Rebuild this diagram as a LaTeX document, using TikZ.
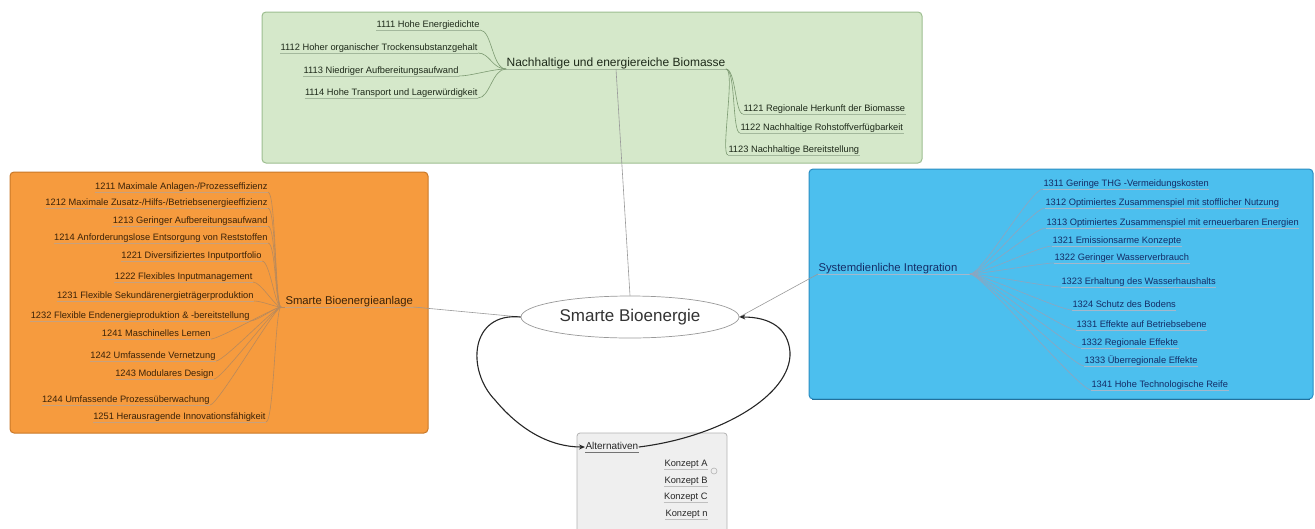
\documentclass[tikz,border=0pt]{standalone}
\usepackage{fontspec}
\setmainfont{Liberation Sans}
\usetikzlibrary{arrows.meta,shapes.geometric}
\definecolor{gfill}{HTML}{D5E8CA}
\definecolor{gline}{HTML}{9DBE90}
\definecolor{ofill}{HTML}{F69B3E}
\definecolor{oline}{HTML}{C97828}
\definecolor{bfill}{HTML}{4CBFEE}
\definecolor{bline}{HTML}{2B8DC2}
\definecolor{gtext}{HTML}{1E2A1A}
\definecolor{otext}{HTML}{3A2208}
\definecolor{btext}{HTML}{142C66}
\definecolor{gconn}{HTML}{7C9A72}
\definecolor{oconn}{HTML}{B98A5C}
\definecolor{bconn}{HTML}{8FA5BE}
\definecolor{afill}{HTML}{EFEFEF}
\definecolor{aline}{HTML}{B3B3B3}
\begin{document}
\begin{tikzpicture}[x=1pt,y=-1pt,
  panel/.style={rounded corners=4pt, line width=1pt},
  leaf/.style={font=\fontsize{9.3}{10}\selectfont, inner sep=0.5pt, outer sep=0pt, text height=7pt, text depth=2pt},
  gleaf/.style={leaf, text=gtext},
  oleaf/.style={leaf, text=otext},
  bleaf/.style={leaf, text=btext},
  aleaf/.style={leaf, text=black!85},
  par/.style={inner sep=0.5pt, outer sep=0pt, text height=8.5pt, text depth=2.5pt},
  gpar/.style={par, font=\fontsize{12}{14}\selectfont, text=gtext},
  opar/.style={par, font=\fontsize{11.3}{13}\selectfont, text=otext},
  bpar/.style={par, font=\fontsize{11.3}{13}\selectfont, text=btext},
  gcon/.style={draw=gconn, line width=0.6pt},
  ocon/.style={draw=oconn, line width=0.6pt},
  bcon/.style={draw=bconn, line width=0.6pt},
  gul/.style={draw=gconn!70, line width=0.5pt},
  oul/.style={draw=oconn!80, line width=0.5pt},
  bul/.style={draw=bconn!80, line width=0.5pt},
  aul/.style={draw=black!25, line width=0.5pt},
  link/.style={draw=black!40, line width=0.6pt},
  arr/.style={draw=black!85, line width=1.1pt, -{Stealth[length=6pt,width=5pt]}},
]
\useasboundingbox (0,0) rectangle (1315,528);

% panels
\draw[panel, draw=gline, fill=gfill] (262,12) rectangle (922,163);
\draw[panel, draw=oline, fill=ofill] (10,172) rectangle (428,433);
\draw[panel, draw=bline, fill=bfill] (809,169) rectangle (1313,399);
\draw[draw=bline!80!black, line width=1.5pt] (812,399.5) -- (1310,399.5);
\draw[rounded corners=3pt, draw=aline, fill=afill, line width=0.8pt] (577,433) rectangle (727,545);

% ---------- green ----------
\node[gpar] (gp) at (616,63) {Nachhaltige und energiereiche Biomasse};
\draw[gul] (gp.south west) -- (gp.south east);
\node[gleaf, anchor=east] (g1111) at (480,25) {1111 Hohe Energiedichte};
\node[gleaf, anchor=east] (g1112) at (478,48) {1112 Hoher organischer Trockensubstanzgehalt};
\node[gleaf, anchor=east] (g1113) at (459,71) {1113 Niedriger Aufbereitungsaufwand};
\node[gleaf, anchor=east] (g1114) at (478,93) {1114 Hohe Transport und Lagerwürdigkeit};
\node[gleaf, anchor=west] (g1121) at (743,109) {1121 Regionale Herkunft der Biomasse};
\node[gleaf, anchor=west] (g1122) at (740,128) {1122 Nachhaltige Rohstoffverfügbarkeit};
\node[gleaf, anchor=west] (g1123) at (728,150) {1123 Nachhaltige Bereitstellung};
\foreach \n in {g1111,g1112,g1113,g1114,g1121,g1122,g1123}
  \draw[gul] (\n.south west) -- (\n.south east);
\foreach \n in {g1111,g1112,g1113,g1114}
  \draw[gcon] (gp.south west) .. controls +(-14,0) and +(12,0) .. (\n.south east);
\foreach \n in {g1121,g1122,g1123}
  \draw[gcon] (gp.south east) .. controls +(10,0) and +(-8,0) .. (\n.south west);

% ---------- orange ----------
\node[opar, anchor=west] (op) at (285,301) {Smarte Bioenergieanlage};
\draw[oul] (op.south west) -- (op.south east);
\coordinate (ofan) at (281,307);
\node[oleaf, anchor=east] (o1211) at (268,187) {1211 Maximale Anlagen-/Prozesseffizienz};
\node[oleaf, anchor=east] (o1212) at (268,203) {1212 Maximale Zusatz-/Hilfs-/Betriebsenergieeffizienz};
\node[oleaf, anchor=east] (o1213) at (268,221) {1213 Geringer Aufbereitungsaufwand};
\node[oleaf, anchor=east] (o1214) at (268,238) {1214 Anforderungslose Entsorgung von Reststoffen};
\node[oleaf, anchor=east] (o1221) at (262,256) {1221 Diversifiziertes Inputportfolio};
\node[oleaf, anchor=east] (o1222) at (253,277) {1222 Flexibles Inputmanagement};
\node[oleaf, anchor=east] (o1231) at (254,296) {1231 Flexible Sekundärenergieträgerproduktion};
\node[oleaf, anchor=east] (o1232) at (250,316) {1232 Flexible Endenergieproduktion \& -bereitstellung};
\node[oleaf, anchor=east] (o1241) at (211,334) {1241 Maschinelles Lernen};
\node[oleaf, anchor=east] (o1242) at (216,356) {1242 Umfassende Vernetzung};
\node[oleaf, anchor=east] (o1243) at (214,374) {1243 Modulares Design};
\node[oleaf, anchor=east] (o1244) at (210,400) {1244 Umfassende Prozessüberwachung};
\node[oleaf, anchor=east] (o1251) at (266,417) {1251 Herausragende Innovationsfähigkeit};
\foreach \n in {o1211,o1212,o1213,o1214,o1221,o1222,o1231,o1232,o1241,o1242,o1243,o1244,o1251}{
  \draw[oul] (\n.south west) -- (\n.south east);
  \draw[ocon] (ofan) .. controls +(-6,0) and +(8,0) .. (\n.south east);
}
\draw[ocon] (ofan) -- (op.south west);

% ---------- blue ----------
\node[bpar, anchor=west] (bp) at (818,268) {Systemdienliche Integration};
\coordinate (bfan) at (970,274);
\draw[bul] (bp.south west) -- (bfan);
\node[bleaf, anchor=west] (b1311) at (1043,184) {1311 Geringe THG -Vermeidungskosten};
\node[bleaf, anchor=west] (b1312) at (1045,203) {1312 Optimiertes Zusammenspiel mit stofflicher Nutzung};
\node[bleaf, anchor=west] (b1313) at (1046,223) {1313 Optimiertes Zusammenspiel mit erneuerbaren Energien};
\node[bleaf, anchor=west] (b1321) at (1052,241) {1321 Emissionsarme Konzepte};
\node[bleaf, anchor=west] (b1322) at (1054,258) {1322 Geringer Wasserverbrauch};
\node[bleaf, anchor=west] (b1323) at (1061,282) {1323 Erhaltung des Wasserhaushalts};
\node[bleaf, anchor=west] (b1324) at (1072,305) {1324 Schutz des Bodens};
\node[bleaf, anchor=west] (b1331) at (1076,325) {1331 Effekte auf Betriebsebene};
\node[bleaf, anchor=west] (b1332) at (1081,343) {1332 Regionale Effekte};
\node[bleaf, anchor=west] (b1333) at (1084,361) {1333 Überregionale Effekte};
\node[bleaf, anchor=west] (b1341) at (1091,385) {1341 Hohe Technologische Reife};
\foreach \n in {b1311,b1312,b1313,b1321,b1322,b1323,b1324,b1331,b1332,b1333,b1341}{
  \draw[bul] (\n.south west) -- (\n.south east);
  \draw[bcon] (bfan) .. controls +(12,0) and +(-12,0) .. (\n.south west);
}

% ---------- centre ----------
\node[ellipse, draw=black!40, fill=white, line width=0.7pt, minimum width=218pt, minimum height=42pt, inner sep=0pt,
      font=\fontsize{17}{20}\selectfont, text=black!80] (center) at (630,317) {Smarte Bioenergie};
\draw[link] (center.north) -- (gp.south);
\draw[link] (center.west) -- (op.south east);
\draw[link] (center.east) -- (bp.south west);

% ---------- alternatives ----------
\node[aleaf, font=\fontsize{10}{11}\selectfont, anchor=west] (alt) at (585,447) {Alternativen};
\draw[draw=black!55, line width=0.6pt] (alt.south west) -- (alt.south east);
\node[aleaf, anchor=east] (ka) at (708,464) {Konzept A};
\node[aleaf, anchor=east] (kb) at (708,481) {Konzept B};
\node[aleaf, anchor=east] (kc) at (708,497) {Konzept C};
\node[aleaf, anchor=east] (kn) at (708,514) {Konzept n};
\foreach \n in {ka,kb,kc,kn}
  \draw[aul] (\n.south west) -- (\n.south east);
\node[circle, draw=aline, line width=0.6pt, minimum size=6pt, inner sep=0pt] (kdot) at (714,471) {};

% ---------- loop arrows ----------
\draw[arr] (center.west) .. controls (470,312) and (466,370) .. (495,400)
           .. controls (520,430) and (550,447) .. (alt.west);
\draw[arr] (alt.east) .. controls (720,437) and (792,395) .. (790,352)
           .. controls (788,328) and (770,317) .. (center.east);
\end{tikzpicture}
\end{document}
